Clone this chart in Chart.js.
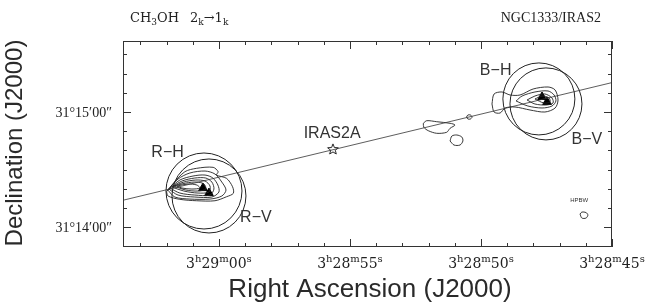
<!DOCTYPE html>
<html lang="en">
<head>
<meta charset="UTF-8">
<title>CH3OH 2k-1k NGC1333/IRAS2</title>
<script src="https://cdn.jsdelivr.net/npm/chart.js"></script>
<style>
  body { margin: 0; background: #fff; }
</style>
</head>
<body>
<canvas id="map" width="646" height="304"></canvas>
<script>
// RA in seconds after 3h28m, Dec in arcsec after 31d14'00"
const raMin = 45, raMax = 63.66;
const decMin = -10.4, decMax = 97.0;

const raMajorValues = [60, 55, 50, 45];
const raMajorParts = [
  ['3', 'h', '29', 'm', '00', 's'],
  ['3', 'h', '28', 'm', '55', 's'],
  ['3', 'h', '28', 'm', '50', 's'],
  ['3', 'h', '28', 'm', '45', 's']
];
const decMajorValues = [60, 0];
const decMajorLabels = ['31°15′00″', '31°14′00″'];

// outflow axis through IRAS2A
const flowAxis = [[63.66, 13.98], [45.0, 75.32]];
const iras2a = [[55.65, 40.7]];
const peaksRed = [[60.61, 20.3], [60.38, 17.7]];
const peaksBlue = [[47.67, 67.8], [47.48, 65.2]];

// beam positions (H and V)
const beamRH = [[60.57, 18.8]];
const beamRV = [[60.38, 16.2]];
const beamBH = [[47.79, 66.8]];
const beamBV = [[47.52, 64.2]];

// red lobe contours, outer to inner
const red1 = [[62.00,18.41],[61.74,22.79],[61.30,28.84],[60.85,30.62],[60.22,31.14],[60.03,28.84],[60.09,27.12],[59.71,25.40],[59.48,21.02],[59.45,17.58],[59.71,15.80],[60.15,13.72],[60.85,13.72],[61.49,14.45],[61.94,16.17]];
const red2 = [[61.95,19.30],[61.56,25.04],[61.11,28.17],[60.53,29.21],[60.15,27.64],[59.89,23.47],[59.73,19.30],[59.89,16.17],[60.34,14.60],[61.11,14.60],[61.68,15.65]];
const red3 = [[61.91,19.82],[61.49,24.52],[60.99,26.60],[60.53,27.12],[60.23,25.56],[60.04,21.91],[60.00,18.26],[60.27,15.65],[60.92,15.65],[61.56,16.69]];
const red4 = [[61.87,20.34],[61.41,23.99],[60.92,25.56],[60.50,25.56],[60.27,23.47],[60.19,19.82],[60.34,16.69],[60.92,16.69],[61.49,17.73]];
const red5 = [[61.79,20.86],[61.34,23.47],[60.88,24.52],[60.53,23.99],[60.34,21.39],[60.38,18.26],[60.80,17.73],[61.34,18.78]];
const red6 = [[61.72,21.39],[61.26,22.95],[60.84,23.47],[60.57,22.43],[60.50,19.82],[60.80,18.78],[61.26,19.30]];
const red7 = [[61.60,21.39],[61.18,22.43],[60.84,21.91],[60.73,20.34],[61.03,19.82],[61.41,20.34]];

// blue lobe contours
const blue1 = [[49.58,64.16],[49.50,69.37],[49.20,70.42],[48.89,68.85],[48.51,68.85],[48.01,71.98],[47.44,73.02],[47.17,71.46],[47.06,66.24],[47.17,62.07],[47.56,59.98],[48.13,61.03],[48.70,62.59],[49.08,62.07],[49.27,59.46],[49.50,59.98]];
const blue2 = [[48.66,65.72],[48.43,68.33],[47.94,70.42],[47.44,70.94],[47.21,68.85],[47.14,65.72],[47.29,63.11],[47.67,62.07],[48.21,63.11]];
const blue3 = [[48.24,66.24],[47.94,68.33],[47.56,69.37],[47.29,67.29],[47.25,64.68],[47.52,63.64],[47.94,64.16]];
const blue4 = [[47.94,66.76],[47.67,68.33],[47.40,67.29],[47.37,65.20],[47.60,64.68]];

// small knots along the axis
const knot1 = [[52.20,54.09],[52.07,55.45],[51.69,54.92],[51.18,54.09],[50.99,53.20],[51.18,51.48],[51.31,49.40],[51.69,48.88],[52.01,50.23],[52.18,52.00]];
const knot2 = [[51.18,44.86],[51.11,47.47],[50.92,47.99],[50.73,46.94],[50.69,44.86],[50.80,42.77],[51.03,42.77]];
const knot3 = [[50.55,57.38],[50.50,58.42],[50.40,58.42],[50.34,57.38],[50.40,56.34],[50.50,56.34]];
const hpbw = [[46.22,6.78],[46.15,7.82],[45.99,7.56],[45.92,6.26],[45.99,4.69],[46.15,4.69]];

const labels = [
  ['R−H', 61.96, 38.96],
  ['R−V', 58.59, 5.06],
  ['B−H', 49.44, 81.53],
  ['B−V', 45.96, 45.38],
  ['IRAS2A', 55.68, 48.87]
];

const xy = arr => arr.map(p => ({ x: p[0], y: p[1] }));
const closed = arr => xy(arr.concat([arr[0]]));

const ink = '#222';

function contour(arr, w) {
  return { data: closed(arr), showLine: true, borderColor: ink, borderWidth: w || 0.9,
           pointRadius: 0, tension: 0.3, fill: false };
}
function beam(arr, r) {
  return { data: xy(arr), showLine: false, pointRadius: r, pointBorderColor: ink,
           pointBackgroundColor: 'rgba(0,0,0,0)', pointBorderWidth: 1 };
}

// open five-point star for IRAS2A
const starImg = document.createElement('canvas');
starImg.width = 14; starImg.height = 14;
(function () {
  const c = starImg.getContext('2d');
  c.beginPath();
  for (let i = 0; i < 10; i++) {
    const r = i % 2 ? 2.4 : 5.6;
    const a = -Math.PI / 2 + i * Math.PI / 5;
    c.lineTo(7 + r * Math.cos(a), 7.5 + r * Math.sin(a));
  }
  c.closePath();
  c.strokeStyle = ink; c.lineWidth = 1;
  c.stroke();
})();

function drawRich(ctx, segs, x, y, align, size) {
  const small = Math.round(size * 0.7);
  const fontOf = k => (k ? small : size) + 'px "DejaVu Serif", serif';
  let w = 0;
  segs.forEach(s => { ctx.font = fontOf(s[1]); w += ctx.measureText(s[0]).width; });
  let cx = align === 'center' ? x - w / 2 : align === 'right' ? x - w : x;
  ctx.textAlign = 'left';
  ctx.textBaseline = 'alphabetic';
  segs.forEach(s => {
    ctx.font = fontOf(s[1]);
    const dy = s[1] === 1 ? -size * 0.42 : s[1] === 2 ? size * 0.25 : 0;
    ctx.fillText(s[0], cx, y + dy);
    cx += ctx.measureText(s[0]).width;
  });
}

const frame = {
  id: 'frame',
  afterDatasetsDraw(chart) {
    const { ctx, chartArea: a, scales: { x, y } } = chart;
    ctx.save();
    ctx.strokeStyle = '#333';
    ctx.lineWidth = 1;
    ctx.strokeRect(a.left + 0.5, a.top + 0.5, a.width - 1, a.height - 1);
    ctx.beginPath();
    x.ticks.forEach(t => {
      const p = Math.round(x.getPixelForValue(t.value)) + 0.5;
      const len = raMajorValues.includes(t.value) ? 8 : 4;
      ctx.moveTo(p, a.bottom); ctx.lineTo(p, a.bottom - len);
      ctx.moveTo(p, a.top); ctx.lineTo(p, a.top + len);
    });
    y.ticks.forEach(t => {
      const p = Math.round(y.getPixelForValue(t.value)) + 0.5;
      const len = decMajorValues.includes(t.value) ? 8 : 4;
      ctx.moveTo(a.left, p); ctx.lineTo(a.left + len, p);
      ctx.moveTo(a.right, p); ctx.lineTo(a.right - len, p);
    });
    ctx.stroke();

    ctx.fillStyle = ink;
    raMajorValues.forEach((v, i) => {
      const segs = raMajorParts[i].map((t, j) => [t, j % 2]);
      drawRich(ctx, segs, x.getPixelForValue(v), 268, 'center', 14);
    });
    ctx.font = '14px "Liberation Serif", serif';
    ctx.textAlign = 'right';
    ctx.textBaseline = 'middle';
    decMajorValues.forEach((v, i) => {
      ctx.fillText(decMajorLabels[i], a.left - 11, y.getPixelForValue(v) + 1);
    });

    // header
    drawRich(ctx, [['CH', 0], ['3', 2], ['OH', 0]], 130, 22, 'left', 13);
    drawRich(ctx, [['2', 0], ['k', 2], ['→', 0], ['1', 0], ['k', 2]], 190, 22, 'left', 13);
    ctx.font = '14px "Liberation Serif", serif';
    ctx.textAlign = 'right';
    ctx.textBaseline = 'alphabetic';
    ctx.fillText('NGC1333/IRAS2', 601, 22);

    // annotations
    ctx.fillStyle = '#333';
    ctx.font = '16px "Liberation Sans", sans-serif';
    ctx.textAlign = 'center';
    ctx.textBaseline = 'middle';
    labels.forEach(l => ctx.fillText(l[0], x.getPixelForValue(l[1]), y.getPixelForValue(l[2])));
    ctx.font = '6px "Liberation Sans", sans-serif';
    ctx.fillText('HPBW', x.getPixelForValue(46.25), y.getPixelForValue(13.72));

    // axis titles
    ctx.fillStyle = '#2a2a2a';
    ctx.font = '26px "Liberation Sans", sans-serif';
    ctx.fillText('Right Ascension (J2000)', 370, 290);
    ctx.translate(15, 143);
    ctx.rotate(-Math.PI / 2);
    ctx.font = '24px "Liberation Sans", sans-serif';
    ctx.fillText('Declination (J2000)', 0, 0);
    ctx.restore();
  }
};

new Chart(document.getElementById('map'), {
  type: 'scatter',
  data: {
    datasets: [
      { data: xy(flowAxis), showLine: true, borderColor: '#333', borderWidth: 0.8, pointRadius: 0 },
      contour(red1), contour(red2), contour(red3), contour(red4),
      contour(red5), contour(red6), contour(red7),
      contour(blue1), contour(blue2), contour(blue3), contour(blue4),
      contour(knot1), contour(knot2), contour(knot3), contour(hpbw),
      beam(beamRH, 38), beam(beamRV, 37), beam(beamBH, 36), beam(beamBV, 36),
      { data: xy(peaksRed), pointStyle: 'triangle', pointRadius: 5, pointBackgroundColor: '#000', pointBorderColor: '#000' },
      { data: xy(peaksBlue), pointStyle: 'triangle', pointRadius: 5, pointBackgroundColor: '#000', pointBorderColor: '#000' },
      { data: xy(iras2a), pointStyle: starImg }
    ]
  },
  options: {
    responsive: false,
    animation: false,
    events: [],
    layout: { autoPadding: false, padding: { left: 123, right: 34, top: 41, bottom: 57 } },
    plugins: { legend: { display: false }, tooltip: { enabled: false } },
    scales: {
      x: {
        type: 'linear', reverse: true, min: raMin, max: raMax,
        grid: { display: false, drawTicks: false }, border: { display: false },
        ticks: { display: false, stepSize: 1, includeBounds: false, padding: 0 }
      },
      y: {
        type: 'linear', min: decMin, max: decMax,
        grid: { display: false, drawTicks: false }, border: { display: false },
        ticks: { display: false, stepSize: 10, includeBounds: false, padding: 0 }
      }
    }
  },
  plugins: [frame]
});
</script>
</body>
</html>
